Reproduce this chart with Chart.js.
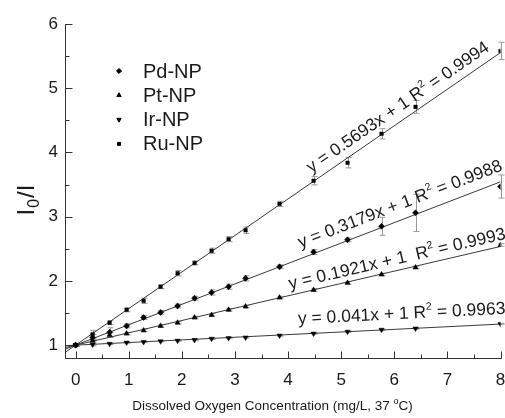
<!DOCTYPE html>
<html>
<head>
<meta charset="utf-8">
<script src="https://cdn.jsdelivr.net/npm/chart.js@4.4.0/dist/chart.umd.min.js"></script>
<style>
  html, body { margin: 0; padding: 0; background: #fff; }
  #wrap { width: 505px; height: 418px; }
</style>
</head>
<body>
<div id="wrap"><canvas id="chart" width="505" height="418"></canvas></div>
<script>
// Dissolved oxygen (mg/L) and I0/I readings per nanoparticle
const xValues = [0, 0.32, 0.64, 0.96, 1.28, 1.6, 1.92, 2.24, 2.56, 2.88, 3.2, 3.84, 4.48, 5.12, 5.76, 6.4, 8.0];

const pdValues = [1, 1.12, 1.20, 1.30, 1.43, 1.51, 1.61, 1.73, 1.82, 1.91, 2.04, 2.22, 2.45, 2.64, 2.85, 3.06, 3.47];
const ptValues = [1, 1.07, 1.16, 1.18, 1.23, 1.30, 1.35, 1.43, 1.47, 1.55, 1.60, 1.74, 1.86, 1.97, 2.10, 2.21, 2.56];
const irValues = [1, 1.01, 1.02, 1.04, 1.05, 1.06, 1.07, 1.08, 1.10, 1.11, 1.12, 1.15, 1.18, 1.21, 1.24, 1.26, 1.33];
const ruValues = [1, 1.17, 1.35, 1.55, 1.69, 1.91, 2.12, 2.28, 2.47, 2.65, 2.79, 3.20, 3.56, 3.84, 4.29, 4.71, 5.58];

const pdErrors = [0.02, 0.05, 0.07, 0.03, 0.03, 0.03, 0.03, 0.03, 0.04, 0.04, 0.04, 0.03, 0.04, 0.03, 0.14, 0.29, 0.18];
const ptErrors = [0.02, 0.02, 0.04, 0.02, 0.02, 0.02, 0.02, 0.02, 0.02, 0.02, 0.02, 0.02, 0.02, 0.02, 0.02, 0.02, 0.02];
const irErrors = [0.01, 0.02, 0.01, 0.01, 0.01, 0.01, 0.01, 0.01, 0.01, 0.01, 0.01, 0.01, 0.01, 0.01, 0.01, 0.01, 0.01];
const ruErrors = [0.02, 0.06, 0.03, 0.03, 0.04, 0.03, 0.04, 0.03, 0.04, 0.04, 0.05, 0.04, 0.065, 0.08, 0.08, 0.10, 0.135];

const seriesNames = ['Pd-NP', 'Pt-NP', 'Ir-NP', 'Ru-NP'];
const fitSlopes = [0.3179, 0.1921, 0.041, 0.5693];
const fitIntercept = 1;
const fitR2 = ['0.9988', '0.9993', '0.9963', '0.9994'];
const fitRange = [-0.2, 8];

const xTicks = [0, 1, 2, 3, 4, 5, 6, 7, 8];
const xMinorTicks = [0.5, 1.5, 2.5, 3.5, 4.5, 5.5, 6.5, 7.5];
const yTicks = [1, 2, 3, 4, 5, 6];
const yMinorTicks = [1.5, 2.5, 3.5, 4.5, 5.5];

const FONT = '"Liberation Sans", Arial, Helvetica, sans-serif';
const INK = '#1a1a1a';

const seriesValues = [pdValues, ptValues, irValues, ruValues];
const seriesErrors = [pdErrors, ptErrors, irErrors, ruErrors];
const markers = [
    { pointStyle: 'rectRot', radius: 3, rotation: 0 },
    { pointStyle: 'triangle', radius: 3, rotation: 0 },
    { pointStyle: 'triangle', radius: 3, rotation: 180 },
    { pointStyle: 'rect', radius: 2.5, rotation: 0 }
];
// where each equation label starts (data x) and how far above its line it sits (px)
const labelStart = [4.3, 4.06, 4.2, 4.52];
const labelLift = [10, 6, 10, 8];

const toPoints = (vals) => vals.map((v, i) => ({ x: xValues[i], y: v }));

const fitDatasets = fitSlopes.map((a) => ({
    type: 'line',
    data: fitRange.map(x => ({ x: x, y: a * x + fitIntercept })),
    borderColor: '#3a3a3a',
    borderWidth: 1,
    pointRadius: 0,
    showLine: true,
    fill: false,
    order: 2
}));

const pointDatasets = seriesValues.map((vals, i) => ({
    label: seriesNames[i],
    data: toPoints(vals),
    showLine: false,
    pointStyle: markers[i].pointStyle,
    pointRadius: markers[i].radius,
    pointRotation: markers[i].rotation,
    pointBackgroundColor: '#000',
    pointBorderColor: '#000',
    pointBorderWidth: 0.5,
    order: 1
}));

// grey error bars with caps
const errorBars = {
    id: 'errorBars',
    beforeDatasetsDraw(chart) {
        const { ctx, scales: { x, y } } = chart;
        ctx.save();
        ctx.strokeStyle = '#9a9a9a';
        ctx.lineWidth = 1;
        seriesValues.forEach((vals, s) => {
            vals.forEach((v, i) => {
                const err = seriesErrors[s][i];
                const px = Math.round(x.getPixelForValue(xValues[i])) + 0.5;
                const top = y.getPixelForValue(v + err);
                const bot = y.getPixelForValue(v - err);
                ctx.beginPath();
                ctx.moveTo(px, top); ctx.lineTo(px, bot);
                ctx.moveTo(px - 3, top); ctx.lineTo(px + 3, top);
                ctx.moveTo(px - 3, bot); ctx.lineTo(px + 3, bot);
                ctx.stroke();
            });
        });
        ctx.restore();
    }
};

// axis lines and inward ticks
const axesFrame = {
    id: 'axesFrame',
    afterDraw(chart) {
        const { ctx, chartArea: a, scales: { x, y } } = chart;
        ctx.save();
        ctx.strokeStyle = '#333';
        ctx.lineWidth = 1;
        const left = Math.round(a.left) + 0.5;
        const bottom = Math.round(a.bottom) + 0.5;
        ctx.beginPath();
        ctx.moveTo(left, a.top);
        ctx.lineTo(left, bottom);
        ctx.lineTo(a.right + 1, bottom);
        yTicks.forEach(v => {
            const py = Math.round(y.getPixelForValue(v)) + 0.5;
            ctx.moveTo(left, py); ctx.lineTo(left + 7, py);
        });
        yMinorTicks.forEach(v => {
            const py = Math.round(y.getPixelForValue(v)) + 0.5;
            ctx.moveTo(left, py); ctx.lineTo(left + 4, py);
        });
        xTicks.forEach(v => {
            const px = Math.round(x.getPixelForValue(v)) + 0.5;
            ctx.moveTo(px, bottom); ctx.lineTo(px, bottom - 7);
        });
        xMinorTicks.forEach(v => {
            const px = Math.round(x.getPixelForValue(v)) + 0.5;
            ctx.moveTo(px, bottom); ctx.lineTo(px, bottom - 4);
        });
        ctx.stroke();
        ctx.restore();
    }
};

// text pieces with a raised or lowered small part
function drawPieces(ctx, pieces, startX, baseY) {
    let cx = startX;
    pieces.forEach(p => {
        ctx.font = p.size + 'px ' + FONT;
        cx += p.pre || 0;
        ctx.fillText(p.text, cx, baseY + (p.shift || 0));
        cx += ctx.measureText(p.text).width + (p.post || 0);
    });
    return cx - startX;
}
function piecesWidth(ctx, pieces) {
    let w = 0;
    pieces.forEach(p => {
        ctx.font = p.size + 'px ' + FONT;
        w += ctx.measureText(p.text).width + (p.pre || 0) + (p.post || 0);
    });
    return w;
}

// fitted equations drawn along the lines
const equations = {
    id: 'equations',
    afterDraw(chart) {
        const { ctx, scales: { x, y } } = chart;
        ctx.save();
        ctx.fillStyle = INK;
        ctx.textBaseline = 'alphabetic';
        fitSlopes.forEach((a, i) => {
            const x0 = labelStart[i];
            const px0 = x.getPixelForValue(x0);
            const py0 = y.getPixelForValue(a * x0 + fitIntercept);
            const px1 = x.getPixelForValue(8);
            const py1 = y.getPixelForValue(a * 8 + fitIntercept);
            const ang = Math.atan2(py1 - py0, px1 - px0);
            const gap = i === 1 ? '  ' : ' ';
            const pieces = [
                { text: 'y = ' + a + 'x + ' + fitIntercept + gap + 'R', size: 17.5 },
                { text: '2', size: 10.5, shift: -8 },
                { text: ' = ' + fitR2[i], size: 17.5 }
            ];
            ctx.save();
            ctx.translate(px0, py0);
            ctx.rotate(ang);
            drawPieces(ctx, pieces, 0, -labelLift[i]);
            ctx.restore();
        });
        ctx.restore();
    }
};

// legend inside the plot, upper left
const insetLegend = {
    id: 'insetLegend',
    afterDraw(chart) {
        const { ctx } = chart;
        ctx.save();
        ctx.textBaseline = 'middle';
        seriesNames.forEach((name, i) => {
            const rowY = 71 + i * 24.3;
            ctx.fillStyle = '#000';
            ctx.strokeStyle = '#000';
            Chart.helpers.drawPoint(ctx, {
                pointStyle: markers[i].pointStyle,
                radius: markers[i].radius * 0.85,
                rotation: markers[i].rotation,
                borderWidth: 0.5
            }, 119, rowY);
            ctx.fillStyle = INK;
            ctx.font = '20px ' + FONT;
            ctx.fillText(name, 143, rowY + 1);
        });
        ctx.restore();
    }
};

// axis titles with sub/superscripts
const axisTitles = {
    id: 'axisTitles',
    afterDraw(chart) {
        const { ctx } = chart;
        ctx.save();
        ctx.fillStyle = INK;
        ctx.textBaseline = 'alphabetic';
        const xt = [
            { text: 'Dissolved Oxygen Concentration (mg/L, 37 ', size: 13.5 },
            { text: 'o', size: 9, shift: -6 },
            { text: 'C)', size: 13.5 }
        ];
        const w = piecesWidth(ctx, xt);
        drawPieces(ctx, xt, 272.5 - w / 2, 410);

        const yt = [
            { text: 'I', size: 24 },
            { text: '0', size: 16, shift: 5, pre: 1, post: 1 },
            { text: '/I', size: 24 }
        ];
        const wy = piecesWidth(ctx, yt);
        ctx.translate(34, 200);
        ctx.rotate(-Math.PI / 2);
        drawPieces(ctx, yt, -wy / 2, 0);
        ctx.restore();
    }
};

new Chart(document.getElementById('chart').getContext('2d'), {
    type: 'scatter',
    data: { datasets: [...fitDatasets, ...pointDatasets] },
    options: {
        responsive: false,
        animation: false,
        events: [],
        layout: { padding: { top: 24, right: 0, left: 0, bottom: 0 } },
        plugins: {
            legend: { display: false },
            tooltip: { enabled: false }
        },
        scales: {
            x: {
                type: 'linear',
                min: -0.2,
                max: 8,
                grid: { display: false, drawTicks: false },
                border: { display: false },
                ticks: { color: INK, font: { family: FONT, size: 17 }, padding: 12, maxRotation: 0 },
                afterBuildTicks: (s) => { s.ticks = xTicks.map(v => ({ value: v })); },
                afterFit: (s) => { s.height = 60; s.paddingRight = 4; }
            },
            y: {
                type: 'linear',
                min: 0.8,
                max: 6,
                grid: { display: false, drawTicks: false },
                border: { display: false },
                ticks: { color: INK, font: { family: FONT, size: 17 }, padding: 7 },
                afterBuildTicks: (s) => { s.ticks = yTicks.map(v => ({ value: v })); },
                afterFit: (s) => { s.width = 65; }
            }
        }
    },
    plugins: [errorBars, axesFrame, equations, insetLegend, axisTitles]
});
</script>
</body>
</html>
